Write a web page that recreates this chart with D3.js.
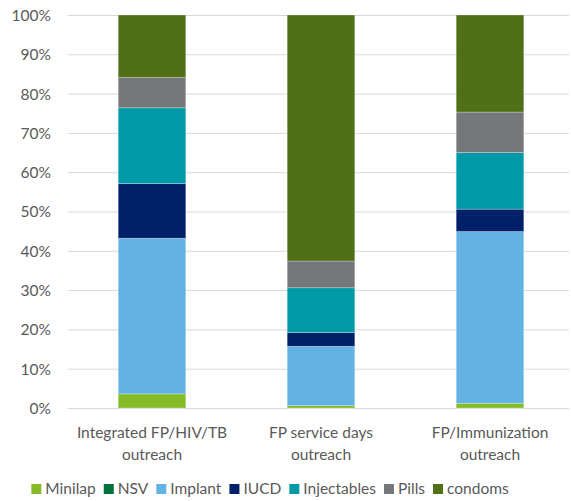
<!DOCTYPE html>
<html><head><meta charset="utf-8">
<script src="https://cdn.jsdelivr.net/npm/d3@7"></script>
<style>body{margin:0;background:#fff}svg{display:block}</style>
</head><body>
<svg id="c" width="571" height="501"></svg>
<script>
const categories = [["Integrated FP/HIV/TB","outreach"],["FP service days","outreach"],["FP/Immunization","outreach"]];
const seriesNames = ["Minilap","NSV","Implant","IUCD","Injectables","Pills","condoms"];
const seriesColors = ["#84BB26","#00703C","#62B3E4","#002169","#0099A8","#75787B","#4F7017"];
const minilap = [3.6, 0.6, 1.2];
const nsv = [0, 0, 0];
const implant = [39.6, 15.1, 43.7];
const iucd = [13.9, 3.5, 5.7];
const injectables = [19.3, 11.4, 14.4];
const pills = [7.7, 6.8, 10.3];
const condoms = [15.9, 62.6, 24.7];
const tickValues = [0,10,20,30,40,50,60,70,80,90,100];

(function(){
const seriesValues = [minilap, nsv, implant, iucd, injectables, pills, condoms];
const rows = categories.map((c,i)=>{const r={cat:i}; seriesNames.forEach((s,j)=>r[s]=seriesValues[j][i]); return r;});
const stack = d3.stack().keys(seriesNames).offset(d3.stackOffsetExpand)(rows);

const svg = d3.select("#c");
const font = "Lato, 'Open Sans', sans-serif";
const pL = 67.5, pR = 574.5, pT = 15, pB = 408;
const x = d3.scaleBand().domain(d3.range(categories.length)).range([pL,pR]).paddingInner(0.6).paddingOuter(0.3);
const y = d3.scaleLinear().domain([0,1]).range([pB,pT]);

svg.append("g").selectAll("line").data(tickValues).join("line")
  .attr("x1",pL).attr("x2",569).attr("y1",d=>y(d/100)+0.5).attr("y2",d=>y(d/100)+0.5)
  .attr("stroke","#d9d9d9").attr("stroke-width",1);

const yAxis = d3.axisLeft(y).tickValues(tickValues.map(d=>d/100)).tickFormat(d3.format(".0%")).tickSize(0).tickPadding(0);
const ya = svg.append("g").attr("transform",`translate(${51},0)`).call(yAxis);
ya.select(".domain").remove();
ya.selectAll("text").attr("font-family",font).attr("font-size",15.5).attr("fill","#595959").attr("dy","0.35em");

svg.append("g").selectAll("g").data(stack).join("g").attr("fill",(d,i)=>seriesColors[i])
  .selectAll("rect").data(d=>d).join("rect")
  .attr("x",d=>x(d.data.cat)).attr("width",x.bandwidth())
  .attr("y",d=>y(d[1])).attr("height",d=>y(d[0])-y(d[1]))
  .attr("stroke","#ffffff").attr("stroke-opacity",0.35).attr("stroke-width",0.75);

const xa = svg.append("g");
categories.forEach((c,i)=>{
  const t = xa.append("text").attr("x",x(i)+x.bandwidth()/2).attr("text-anchor","middle")
    .attr("font-family",font).attr("font-size",15.5).attr("fill","#595959");
  c.forEach((line,k)=>t.append("tspan").attr("x",x(i)+x.bandwidth()/2).attr("y",438+k*22).text(line));
});

const lg = svg.append("g");
let cx = 0;
seriesNames.forEach((s,i)=>{
  const g = lg.append("g").attr("transform",`translate(${cx},0)`);
  g.append("rect").attr("x",0).attr("y",-5).attr("width",10).attr("height",10).attr("fill",seriesColors[i]);
  const t = g.append("text").attr("x",14).attr("y",0).attr("dy","0.35em").attr("font-family",font)
    .attr("font-size",15.5).attr("fill","#595959").text(s);
  const w = t.node().getComputedTextLength();
  cx += 14 + w + 8;
});
const totalW = cx - 8;
lg.attr("transform",`translate(${270 - totalW/2},489)`);
})();
</script>
</body></html>
